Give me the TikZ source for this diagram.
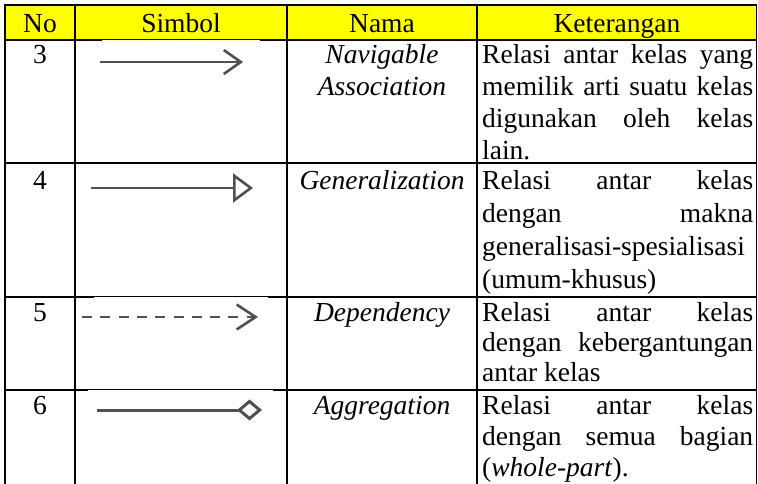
\documentclass[tikz,border=0pt]{standalone}
\usepackage{fontspec}
\setmainfont{Liberation Serif}
\usetikzlibrary{arrows.meta}
\definecolor{hdr}{RGB}{255,255,0}
\definecolor{symgray}{RGB}{80,80,80}
\begin{document}
\begin{tikzpicture}[x=1pt,y=-1pt,
  grid/.style={line width=1.9pt, black, line cap=rect},
  txt/.style={inner sep=0pt, anchor=base, font=\fontsize{27.5}{33}\selectfont},
  itx/.style={txt, font=\fontsize{27.5}{33}\selectfont\itshape},
  ket/.style={inner sep=0pt, anchor=base west, font=\fontsize{27.5}{33}\selectfont},
  sym/.style={line width=2.6pt, symgray}]
\useasboundingbox (0,0) rectangle (758,483);
% header fill
\fill[hdr] (5,5) rectangle (756.5,40);
% grid
\foreach \y in {5,40,163,297,390} \draw[grid] (5,\y) -- (756.5,\y);
\foreach \x in {5,75,287,477,756.5} \draw[grid] (\x,5) -- (\x,483);
% image overlap artifacts
\fill[white] (102,40.1) rectangle (260,41.2);
\fill[white] (94,297.1) rectangle (268,298.2);
\fill[white] (88,390.1) rectangle (273,391.2);
% header
\node[txt] (hno) at (40,32) {No};
\node[txt] (hsim) at (181,32) {Simbol};
\node[txt] (hnam) at (382,32) {Nama};
\node[txt] (hket) at (617,32) {Keterangan};
% numbers
\node[txt] (n3) at (40,63) {3};
\node[txt] (n4) at (40,189) {4};
\node[txt] (n5) at (40,321) {5};
\node[txt] (n6) at (40,414) {6};
% names
\node[itx] (m3a) at (382,63) {Navigable};
\node[itx] (m3b) at (382,95) {Association};
\node[itx] (m4) at (382,189) {Generalization};
\node[itx] (m5) at (382,321) {Dependency};
\node[itx] (m6) at (382,414) {Aggregation};
% keterangan
\node[ket] (k3a) at (482,63) {\makebox[271pt][s]{Relasi antar kelas yang}};
\node[ket] (k3b) at (482,95) {\makebox[271pt][s]{memilik arti suatu kelas}};
\node[ket] (k3c) at (482,127) {\makebox[271pt][s]{digunakan oleh kelas}};
\node[ket] (k3d) at (482,159) {lain.};
\node[ket] (k4a) at (482,189) {\makebox[271pt][s]{Relasi antar kelas}};
\node[ket] (k4b) at (482,222) {\makebox[271pt][s]{dengan makna}};
\node[ket] (k4c) at (482,255) {generalisasi-spesialisasi};
\node[ket] (k4d) at (482,288) {(umum-khusus)};
\node[ket] (k5a) at (482,321) {\makebox[271pt][s]{Relasi antar kelas}};
\node[ket] (k5b) at (482,351) {\makebox[271pt][s]{dengan kebergantungan}};
\node[ket] (k5c) at (482,381) {antar kelas};
\node[ket] (k6a) at (482,414) {\makebox[271pt][s]{Relasi antar kelas}};
\node[ket] (k6b) at (482,445) {\makebox[271pt][s]{dengan semua bagian}};
\node[ket] (k6c) at (482,476) {(\textit{whole-part}).};
% symbols
\coordinate (s3a) at (100,62); \coordinate (s3b) at (243,62);
\draw[sym, -{Straight Barb[length=17pt,width=24pt]}] (s3a) -- (s3b);
\coordinate (s4a) at (91,188); \coordinate (s4b) at (253,188);
\draw[sym, -{Triangle[open,length=20pt,width=29pt]}] (s4a) -- (s4b);
\coordinate (s5a) at (82,317); \coordinate (s5b) at (258,317);
\draw[sym, dash pattern=on 10pt off 8.3pt, -{Straight Barb[length=19pt,width=25pt]}] (s5a) -- (s5b);
\coordinate (s6a) at (97,410); \coordinate (s6b) at (262,410);
\draw[sym, line width=3pt, -{Diamond[open,length=25pt,width=21pt]}] (s6a) -- (s6b);
\end{tikzpicture}
\end{document}
